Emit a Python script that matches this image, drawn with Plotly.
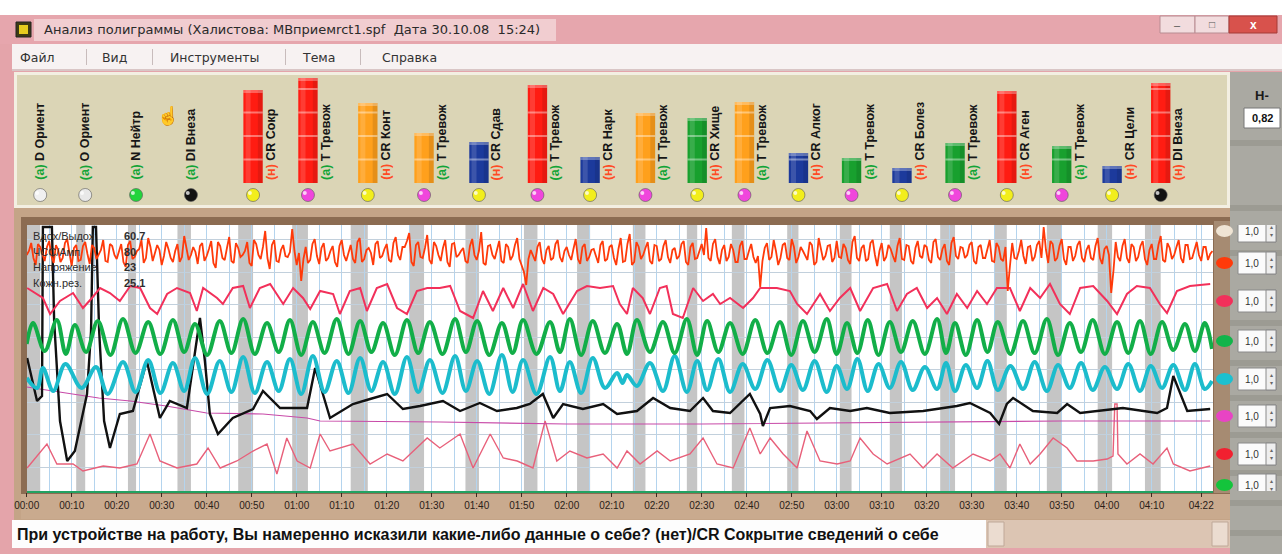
import plotly.graph_objects as go

W, H = 1282, 554

# ---------------- data ----------------
tick_times = [0, 10, 20, 30, 40, 50, 60, 70, 80, 90, 100, 110, 120, 130, 140, 150, 160,
              170, 180, 190, 200, 210, 220, 230, 240, 250, 261]
tick_labels = ["00:00", "00:10", "00:20", "00:30", "00:40", "00:50", "01:00", "01:10", "01:20",
               "01:30", "01:40", "01:50", "02:00", "02:10", "02:20", "02:30", "02:40", "02:50",
               "03:00", "03:10", "03:20", "03:30", "03:40", "03:50", "04:00", "04:10", "04:22"]

q_labels = ["D Ориент", "O Ориент", "N Нейтр", "DI Внеза", "CR Сокр", "T Тревож", "CR Конт",
            "T Тревож", "CR Сдав", "T Тревож", "CR Нарк", "T Тревож", "CR Хище", "T Тревож",
            "CR Алког", "T Тревож", "CR Болез", "T Тревож", "CR Аген", "T Тревож", "CR Цели",
            "DI Внеза"]
q_answer = ["а", "а", "а", "а", "н", "а", "н", "а", "н", "а", "н", "а", "н", "а", "н", "а",
            "н", "а", "н", "а", "н", "н"]
q_start = [0.0, 11.0, 22.5, 33.5, 47.0, 59.0, 72.0, 85.0, 97.5, 110.5, 122.3, 134.7, 146.7,
           156.7, 169.0, 180.7, 191.8, 203.0, 215.0, 226.7, 238.0, 248.5]
q_end = [3.0, 13.0, 24.3, 36.5, 50.3, 62.5, 75.8, 88.3, 100.5, 113.5, 125.2, 137.5, 149.0,
         159.5, 171.5, 183.3, 194.5, 206.3, 217.8, 230.0, 241.2, 252.0]
q_score = [0, 0, 0, 0, 93, 105, 80, 50, 41, 98, 26, 70, 65, 81, 30, 25, 15, 40, 92, 37, 17, 100]
q_level = ["", "", "", "", "high", "high", "mid", "mid", "low", "high", "low", "mid", "norm",
           "mid", "low", "norm", "low", "norm", "high", "norm", "low", "high"]

readout_names = ["Вдох/Выдох", "ЧСС/Амп", "Напряжение", "Кожн.рез."]
readout_values = ["60.7", "80", "23", "25.1"]

channel_levels = [260, 228, 190, 150, 112, 75, 37, 6]
channel_gain = ["1,0", "1,0", "1,0", "1,0", "1,0", "1,0", "1,0", "1,0"]
index_value = "0,82"

# tremor / top channel: samples at whole seconds ...
red_v = [236, 248, 226, 244, 230, 250, 228, 241, 233, 252, 225, 246, 231, 249, 227, 243, 236, 251, 229, 245,
         232, 247, 224, 250, 234, 242, 228, 253, 230, 246, 226, 249, 233, 240, 229, 255, 231, 244, 227, 248,
         235, 250, 223, 245, 231, 254, 228, 243, 236, 249, 225, 247, 232, 260, 222, 251, 229, 246, 234, 262,
         226, 210, 244, 231, 252, 227, 248, 233, 245, 224, 251, 230, 246, 228, 253, 232, 243, 226, 250, 235,
         247, 229, 254, 231, 244, 258, 225, 249, 233, 256, 227, 245, 230, 251, 224, 248, 236, 243, 228, 252,
         231, 259, 226, 246, 232, 250, 228, 244, 235, 253, 226, 206, 241, 230, 249, 227, 245, 233, 251, 229,
         244, 231, 252, 227, 247, 234, 242, 228, 250, 232, 246, 226, 253, 230, 257, 229, 244, 236, 249, 227,
         245, 232, 251, 228, 243, 235, 250, 226, 248, 233, 247, 263, 230, 252, 227, 246, 234, 241, 229, 250,
         232, 247, 228, 204, 243, 231, 251, 226, 246, 233, 252, 228, 244, 235, 249, 226, 253, 231, 245, 229,
         250, 233, 243, 227, 255, 230, 246, 232, 251, 225, 248, 234, 242, 229, 253, 231, 245, 227, 250, 233,
         244, 228, 252, 231, 247, 226, 254, 232, 243, 236, 249, 227, 246, 233, 251, 229, 244, 230, 200, 248,
         232, 251, 227, 245, 234, 250, 264, 228, 247, 233, 252, 226, 244, 235, 250, 229, 246, 231, 253, 227,
         245, 198, 249, 230, 252, 228, 244, 234, 250, 226, 247, 232, 255, 229, 243, 236, 251, 228, 246, 233,
         249, 230, 244, 237]
# ... and at the half seconds in between
red_half = [240, 233, 247, 236, 244, 235, 246, 229, 248, 238, 243, 230, 245, 237, 246, 232, 241, 230, 247, 236,
            241, 229, 246, 232, 240, 251, 233, 244, 238, 241, 235, 242, 229, 247, 234, 243, 236, 239, 245, 230,
            242, 228, 249, 233, 243, 230, 248, 234, 240, 228, 251, 236, 244, 233, 246, 230, 241, 235, 239, 240,
            238, 232, 228, 247, 235, 243, 230, 240, 229, 245, 236, 238, 232, 249, 229, 241, 238, 247, 233, 242,
            231, 248, 236, 244, 250, 229, 246, 234, 243, 231, 249, 236, 243, 229, 247, 234, 240, 230, 245, 236,
            240, 228, 245, 236, 241, 230, 247, 231, 246, 232, 219, 232, 236, 244, 232, 241, 231, 247, 234, 240,
            236, 242, 232, 244, 230, 241, 235, 246, 230, 244, 233, 242, 229, 247, 226, 249, 232, 243, 230, 246,
            230, 245, 234, 241, 232, 247, 229, 244, 232, 240, 236, 233, 247, 234, 241, 230, 247, 229, 245, 232,
            240, 234, 235, 230, 248, 234, 240, 233, 248, 231, 244, 234, 240, 231, 246, 229, 243, 235, 246, 233,
            234, 247, 231, 249, 233, 243, 230, 248, 236, 240, 230, 246, 235, 245, 232, 246, 230, 243, 235, 246,
            231, 249, 234, 242, 230, 248, 235, 244, 233, 246, 230, 244, 233, 242, 230, 248, 232, 244, 225, 233,
            240, 235, 244, 230, 246, 233, 241, 250, 230, 245, 232, 244, 230, 246, 233, 241, 233, 245, 233, 242,
            236, 220, 234, 245, 233, 247, 230, 245, 232, 241, 232, 246, 231, 248, 232, 244, 233, 246, 232, 241,
            236, 244, 231, 240]

crimson = [(0.1, 203), (3.6, 193), (5.2, 177), (7.4, 190), (10.3, 198), (12.5, 183), (14.5, 193), (16.3, 203),
           (18.5, 198), (20.7, 190), (23.0, 205), (25.2, 203), (27.4, 183), (29.0, 177), (31.2, 197), (33.4, 203),
           (36.3, 198), (37.8, 180), (39.2, 203), (42.3, 193), (43.6, 187), (45.8, 203), (48.1, 205), (49.6, 183),
           (51.8, 203), (54.1, 207), (57.0, 187), (59.2, 203), (61.4, 193), (63.0, 182), (65.2, 200), (68.1, 197),
           (69.6, 177), (71.8, 200), (74.1, 203), (75.6, 180), (77.8, 203), (80.1, 207), (82.3, 183), (84.5, 177),
           (86.7, 200), (89.0, 203), (91.8, 203), (94.1, 205), (96.3, 180), (99.2, 173), (101.4, 200), (103.6, 180),
           (105.9, 203), (108.1, 183), (110.3, 207), (112.5, 180), (114.8, 203), (117.0, 197), (119.2, 177),
           (122.3, 200), (124.5, 205), (127.4, 203), (130.3, 205), (131.8, 187), (133.4, 177), (134.7, 203),
           (136.9, 193), (138.5, 177), (140.7, 203), (142.2, 205), (143.6, 177), (145.8, 173), (148.1, 203),
           (150.3, 190), (152.5, 197), (154.1, 187), (156.3, 193), (159.2, 183), (161.4, 193), (163.0, 203),
           (166.7, 203), (169.6, 200), (171.2, 187), (173.4, 177), (176.3, 197), (178.5, 180), (180.7, 193),
           (183.0, 203), (185.2, 180), (188.1, 203), (191.2, 207), (193.4, 180), (195.6, 197), (197.8, 203),
           (200.1, 183), (202.3, 193), (204.5, 177), (206.7, 197), (209.0, 183), (211.2, 200), (213.4, 187),
           (215.6, 203), (218.5, 203), (220.7, 180), (223.0, 203), (225.2, 193), (227.4, 207), (229.6, 187),
           (231.8, 177), (234.1, 203), (237.0, 205), (240.1, 190), (242.3, 177), (244.5, 197), (246.7, 205),
           (249.6, 203), (251.8, 187), (253.4, 178), (255.6, 200), (258.5, 205), (263.0, 207)]

green = [(0, 147), (1.4, 168), (4.0, 140), (6.7, 171), (8.7, 137), (10.7, 166), (13.2, 139), (15.8, 170),
         (18.6, 136), (21.4, 172), (24.2, 138), (27.0, 169), (29.7, 137), (32.5, 171), (35.0, 139), (37.4, 167),
         (40.1, 136), (42.9, 170), (45.5, 138), (48.1, 172), (50.7, 137), (53.4, 168), (56.0, 139), (58.5, 171),
         (61.0, 136), (63.6, 169), (66.2, 138), (68.9, 172), (71.5, 137), (74.1, 170), (76.6, 139), (79.2, 168),
         (81.8, 136), (84.5, 171), (87.0, 138), (89.6, 169), (92.4, 137), (95.2, 172), (97.6, 139), (100.1, 170),
         (102.8, 136), (105.6, 168), (108.0, 138), (110.3, 171), (113.3, 137), (116.3, 169), (118.5, 139),
         (120.7, 172), (123.2, 136), (125.8, 170), (128.5, 138), (131.2, 167), (133.4, 137), (135.6, 171),
         (138.5, 139), (141.4, 169), (144.0, 138), (146.7, 172), (149.0, 136), (151.2, 170), (153.7, 139),
         (156.3, 168), (159.1, 137), (161.9, 171), (164.6, 138), (167.4, 169), (169.9, 136), (172.5, 170),
         (175.1, 139), (177.8, 172), (180.0, 137), (182.3, 168), (184.6, 138), (186.9, 171), (189.3, 136),
         (191.8, 169), (194.3, 139), (196.9, 170), (199.6, 137), (202.3, 172), (204.3, 138), (206.3, 168),
         (208.7, 136), (211.2, 171), (213.5, 139), (215.8, 169), (218.6, 137), (221.4, 170), (224.0, 138),
         (226.7, 172), (229.2, 136), (231.8, 168), (234.3, 139), (236.9, 171), (239.6, 137), (242.3, 169),
         (244.8, 138), (247.4, 170), (249.8, 137), (252.3, 169), (254.8, 141), (257.4, 167), (259.6, 140),
         (261.8, 168), (263.4, 142)]

cyan = [(0, 113), (2.3, 103), (3.6, 123), (5.9, 100), (8.6, 127), (12.2, 103), (15.4, 124), (18.0, 97),
        (21.4, 129), (24.2, 99), (27.0, 131), (29.7, 98), (32.5, 128), (35.0, 100), (37.4, 133), (40.1, 97),
        (42.9, 130), (45.5, 99), (48.1, 134), (50.7, 98), (53.4, 129), (56.0, 100), (58.5, 132), (61.0, 97),
        (63.6, 135), (66.2, 99), (68.9, 130), (71.5, 98), (74.1, 133), (76.6, 100), (79.2, 129), (81.8, 97),
        (84.5, 134), (87.0, 99), (89.6, 131), (92.4, 98), (95.2, 135), (97.6, 100), (100.1, 130), (102.8, 97),
        (105.6, 136), (108.0, 99), (110.3, 131), (113.3, 97), (116.3, 134), (118.5, 100), (120.7, 129),
        (123.2, 98), (125.8, 133), (128.5, 103), (131.2, 118), (132.4, 108), (133.4, 116), (135.6, 105),
        (138.5, 128), (141.4, 100), (144.0, 135), (146.7, 99), (149.0, 130), (151.2, 101), (153.7, 132),
        (156.3, 99), (159.1, 127), (161.9, 102), (164.6, 131), (167.4, 100), (169.9, 126), (172.5, 101),
        (175.1, 130), (177.8, 99), (180.0, 125), (182.3, 102), (184.6, 132), (186.9, 100), (189.3, 127),
        (191.8, 103), (194.3, 129), (196.9, 101), (199.6, 124), (202.3, 102), (204.3, 128), (206.3, 100),
        (208.7, 126), (211.2, 103), (213.5, 130), (215.8, 101), (218.6, 125), (221.4, 102), (224.0, 129),
        (226.7, 100), (229.2, 126), (231.8, 103), (234.3, 128), (236.9, 101), (239.6, 124), (242.3, 102),
        (244.8, 127), (247.4, 100), (249.8, 125), (252.3, 103), (254.8, 126), (257.4, 101), (259.6, 127),
        (261.8, 102), (263.4, 110)]

black = [(0.1, 133), (2.3, 90), (3.4, 95), (3.6, 264), (5.6, 264), (6.1, 170), (7.4, 70), (9.0, 30),
         (10.7, 40), (13.4, 97), (14.3, 160), (14.7, 264), (15.4, 264), (16.1, 160), (17.2, 70), (18.5, 43),
         (20.7, 77), (23.6, 80), (26.7, 130), (29.6, 73), (31.8, 90), (35.6, 83), (38.5, 173), (39.6, 130),
         (40.7, 77), (42.5, 57), (45.8, 73), (50.3, 82), (52.5, 100), (56.3, 83), (62.3, 83), (64.1, 123),
         (67.4, 73), (72.5, 87), (76.3, 92), (80.1, 97), (83.6, 82), (87.4, 85), (92.5, 90), (96.3, 80),
         (100.7, 88), (104.5, 80), (108.9, 83), (111.8, 87), (114.7, 97), (117.0, 73), (119.2, 87),
         (123.6, 82), (128.1, 87), (131.2, 77), (135.6, 80), (139.2, 93), (143.0, 83), (147.4, 80),
         (150.3, 93), (152.5, 80), (156.3, 78), (160.7, 97), (163.0, 77), (163.6, 65), (165.2, 83),
         (169.6, 85), (174.1, 80), (175.6, 72), (178.5, 83), (183.0, 80), (186.7, 83), (191.8, 78),
         (199.2, 80), (206.7, 85), (209.6, 88), (214.1, 78), (216.1, 67), (217.8, 87), (219.2, 93),
         (223.6, 80), (229.0, 78), (231.2, 87), (234.1, 78), (243.6, 83), (251.2, 78), (253.4, 83),
         (254.8, 115), (257.9, 80), (263.0, 82)]

magenta = [(0, 104), (3.0, 102), (9.6, 97), (16.0, 93), (23.0, 90), (31.0, 85), (40.0, 78), (52.5, 77),
           (62.3, 73), (65.2, 70), (92.0, 69), (120.0, 67), (150.0, 67), (175.0, 68), (200.0, 69),
           (230.0, 70), (263.0, 70)]

salmon = [(0.1, 23), (4.5, 47), (6.7, 27), (10.3, 27), (12.5, 20), (17.0, 25), (20.7, 23), (24.5, 27),
          (27.4, 57), (29.6, 30), (33.4, 23), (37.8, 27), (40.3, 43), (43.0, 23), (46.7, 30), (50.3, 40),
          (53.4, 47), (55.6, 17), (57.8, 53), (60.1, 30), (63.0, 23), (65.2, 57), (67.4, 40), (72.5, 47),
          (76.3, 27), (80.1, 37), (83.6, 30), (89.0, 53), (91.8, 43), (96.3, 57), (99.2, 23), (103.0, 57),
          (105.9, 33), (109.0, 30), (112.5, 23), (115.2, 70), (117.8, 30), (120.7, 40), (124.5, 33),
          (128.1, 37), (131.2, 23), (133.4, 40), (136.3, 27), (140.1, 40), (143.0, 30), (147.4, 37),
          (150.3, 53), (153.4, 27), (157.0, 23), (160.7, 63), (163.0, 37), (165.2, 53), (168.1, 37),
          (171.2, 23), (173.4, 60), (176.3, 30), (180.1, 27), (183.0, 30), (185.2, 53), (188.1, 37),
          (191.2, 27), (194.1, 33), (196.3, 37), (199.2, 23), (202.3, 37), (205.8, 23), (210.3, 37),
          (214.1, 30), (216.3, 37), (218.5, 23), (220.7, 47), (223.0, 27), (225.2, 37), (228.1, 53),
          (231.2, 43), (233.4, 30), (237.0, 30), (240.1, 32), (241.4, 35), (241.8, 87), (242.3, 87),
          (242.5, 37), (244.5, 27), (247.4, 37), (250.3, 27), (253.4, 43), (254.8, 27), (258.5, 20),
          (263.0, 25)]

title_text = "Анализ полиграммы (Халистова: МВприемrct1.spf  Дата 30.10.08  15:24)"
menu_items = ["Файл", "Вид", "Инструменты", "Тема", "Справка"]
status_text = "При устройстве на работу, Вы намеренно исказили какие-либо данные о себе? (нет)/CR Сокрытие сведений о себе"

# ---------------- styles ----------------
FONT = "Liberation Sans, Arial, sans-serif"
UIFONT = "DejaVu Sans, Verdana, sans-serif"
level_color = {"high": "#ff1c12", "mid": "#ffa01c", "norm": "#18a02e", "low": "#1c3a9c"}
type_color = {"D": "#f0f0f0", "O": "#e8e8e8", "N": "#22d43c", "DI": "#121212", "CR": "#f2ee1c", "T": "#f046dc"}
answer_color = {"а": "#12a436", "н": "#ff4a24"}
handle_colors = ["#efe4d4", "#ff3a0a", "#f2305a", "#12b44a", "#1cc0d0", "#e844c4", "#f22030", "#14c43c"]

X_LEFT, X_RIGHT = 26.7, 1213.0
PX_PER_S = 4.5
T_MAX = (X_RIGHT - X_LEFT) / PX_PER_S


def px(x):
    return x / W


def py(y):
    return 1 - y / H


shapes = []
annotations = []


def rect(x0, y0, x1, y1, fill, line=None, lw=0, layer="below"):
    shapes.append(dict(type="rect", xref="paper", yref="paper", x0=px(x0), x1=px(x1),
                       y0=py(y1), y1=py(y0), fillcolor=fill,
                       line=dict(width=lw, color=line or fill), layer=layer))


def text(x, y, s, size=11, color="#222", xanchor="left", bold=False, family=FONT, **kw):
    annotations.append(dict(x=px(x), y=py(y), xref="paper", yref="paper", text=("<b>%s</b>" % s) if bold else s,
                            showarrow=False, xanchor=xanchor, yanchor="middle",
                            font=dict(size=size, color=color, family=family), **kw))


# ---------------- window chrome ----------------
rect(0, 0, W, 15, "#ffffff")
rect(0, 15, W, 44, "#e6a6ad")
rect(34, 19, 556, 41, "#f1cdd0")
rect(16, 22, 31, 37, "#3c3a14", "#222", 1)
rect(19, 25, 28, 34, "#e6cc1e")
text(42, 30, title_text, size=13, color="#2a2a2a", family=UIFONT)
rect(1160, 16, 1195, 33, "#f2dcde", "#b88c92", 1)
rect(1195, 16, 1229, 33, "#f2dcde", "#b88c92", 1)
rect(1229, 16, 1277, 33, "#d8524c", "#a43a36", 1)
text(1177, 25, "–", size=11, color="#555", xanchor="center")
text(1212, 25, "□", size=10, color="#555", xanchor="center")
text(1253, 25, "x", size=12, color="#ffffff", xanchor="center", bold=True)

rect(12, 44, W, 70, "#f7f2f2")
rect(12, 69, W, 71, "#d9c6c6")
menu_x = [18, 100, 168, 300, 380]
for mx, item in zip(menu_x, menu_items):
    text(mx, 57, item, size=12.5, color="#333", family=UIFONT)
for sx in [86, 152, 285, 360]:
    rect(sx, 49, sx + 1, 65, "#c8bcbc")

# question panel
rect(14, 72, 1230, 208, "#f3efe2")
rect(17, 75, 1227, 205, "#dbd5b6")
# chart frame
rect(14, 208, 1230, 520, "#c4a487")
rect(21, 217, 1236, 496, "#8c6c52")
rect(27, 225, X_RIGHT, 491, "#ffffff")
rect(X_RIGHT + 1, 221, 1234, 493, "#a68b72")
rect(21, 494, 1236, 519, "#c9aa8e")
# status + scrollbar
rect(12, 520, 986, 548, "#fdfdfd")
rect(986, 520, 1230, 548, "#dcc5b3")
rect(988, 522, 1004, 546, "#ebdcd0", "#bfa898", 1)
rect(1212, 522, 1228, 546, "#ebdcd0", "#bfa898", 1)
text(15, 534, status_text, size=16, color="#111", bold=True)
# right grey strip
rect(1230, 72, W, H, "#aaa9a2")
for yy in [140, 205, 250, 320, 360, 395, 432, 470, 500, 530]:
    rect(1230, yy, W, yy + 6, "#9c9b93")
text(1262, 95, "Н-", size=13, color="#1a1a1a", xanchor="center", bold=True)
rect(1244, 108, 1280, 128, "#ffffff", "#777", 1)
text(1262, 118, index_value, size=11, color="#111", xanchor="center", bold=True)
# hand cursor in the panel
text(168, 116, "☝", size=18, color="#555", xanchor="center")

# readouts in the chart corner
for i, (nm, val) in enumerate(zip(readout_names, readout_values)):
    text(31, 236 + 15.5 * i, nm, size=11, color="#2e2e2e")
    text(122, 236 + 15.5 * i, val, size=11, color="#2e2e2e", bold=True)

# ---------------- question bands ----------------
for s, e in zip(q_start, q_end):
    shapes.append(dict(type="rect", xref="x", yref="y", x0=s, x1=e, y0=0, y1=266,
                       fillcolor="rgba(150,150,150,0.55)", line=dict(width=0), layer="below"))

# channel handles and gain spin boxes
for lvl, col, g in zip(channel_levels, handle_colors, channel_gain):
    shapes.append(dict(type="circle", xref="paper", yref="y", x0=px(1216), x1=px(1233),
                       y0=lvl - 6, y1=lvl + 6, fillcolor=col, line=dict(width=0), layer="above"))
    shapes.append(dict(type="rect", xref="paper", yref="y", x0=px(1238), x1=px(1276),
                       y0=lvl - 11, y1=lvl + 11, fillcolor="#fbfbfb", line=dict(width=1, color="#8a8a8a"),
                       layer="above"))
    shapes.append(dict(type="rect", xref="paper", yref="y", x0=px(1266), x1=px(1276),
                       y0=lvl - 11, y1=lvl + 11, fillcolor="#eeeeee", line=dict(width=1, color="#8a8a8a"),
                       layer="above"))
    annotations.append(dict(x=px(1252), y=lvl, xref="paper", yref="y", text=g, showarrow=False,
                            font=dict(size=10, color="#333", family=FONT), xanchor="center"))
    annotations.append(dict(x=px(1271), y=lvl, xref="paper", yref="y", text="▴<br>▾", showarrow=False,
                            font=dict(size=6, color="#666", family=FONT), xanchor="center"))

# ---------------- traces ----------------
fig = go.Figure()


def add_line(pts, color, width, shape="linear"):
    fig.add_trace(go.Scatter(x=[p[0] for p in pts], y=[p[1] for p in pts], mode="lines",
                             line=dict(color=color, width=width, shape=shape),
                             hoverinfo="skip", showlegend=False, xaxis="x", yaxis="y"))


add_line(salmon, "#e8607a", 1.4)
add_line(magenta, "#c84aa8", 1.2)
add_line(black, "#111111", 2.4)
add_line(cyan, "#1cbccc", 4.0, "spline")
add_line(green, "#12ae48", 4.0, "spline")
add_line(crimson, "#f2305a", 2.0)
red_pts = sorted([(i, v) for i, v in enumerate(red_v)] + [(i + 0.5, v) for i, v in enumerate(red_half)])
add_line(red_pts, "#ff3a0a", 1.8)

# question panel bars, dots, labels
BAR_W = 4.3
bar_idx = [i for i, s in enumerate(q_score) if s > 0]
fig.add_trace(go.Bar(x=[q_end[i] for i in bar_idx], y=[q_score[i] for i in bar_idx], width=BAR_W,
                     marker=dict(color=[level_color[q_level[i]] for i in bar_idx], line=dict(width=0)),
                     xaxis="x2", yaxis="y2", hoverinfo="skip", showlegend=False))
# cylinder shading and segment lines on the bars
for i in bar_idx:
    xc = q_end[i]
    shapes.append(dict(type="rect", xref="x2", yref="y2", x0=xc - BAR_W / 2 + 0.5, x1=xc - BAR_W / 8,
                       y0=0, y1=q_score[i], fillcolor="rgba(255,255,255,0.14)", line=dict(width=0),
                       layer="above"))
    shapes.append(dict(type="rect", xref="x2", yref="y2", x0=xc + BAR_W / 4, x1=xc + BAR_W / 2,
                       y0=0, y1=q_score[i], fillcolor="rgba(0,0,0,0.10)", line=dict(width=0),
                       layer="above"))
    k = 1
    while k * 23.5 < q_score[i] - 4:
        shapes.append(dict(type="line", xref="x2", yref="y2", x0=xc - BAR_W / 2, x1=xc + BAR_W / 2,
                           y0=k * 23.5, y1=k * 23.5, line=dict(color="rgba(255,255,255,0.4)", width=2),
                           layer="above"))
        k += 1
    shapes.append(dict(type="rect", xref="x2", yref="y2", x0=xc - BAR_W / 2, x1=xc + BAR_W / 2,
                       y0=q_score[i] - 3, y1=q_score[i], fillcolor="rgba(255,255,255,0.3)",
                       line=dict(width=0), layer="above"))

q_types = [lab.split()[0] for lab in q_labels]
fig.add_trace(go.Scatter(x=q_end, y=[-12] * len(q_end), mode="markers", cliponaxis=False,
                         marker=dict(size=13, color=[type_color[t] for t in q_types],
                                     line=dict(width=1, color="rgba(90,90,90,0.6)")),
                         xaxis="x2", yaxis="y2", hoverinfo="skip", showlegend=False))
fig.add_trace(go.Scatter(x=[t - 0.7 for t in q_end], y=[-10] * len(q_end), mode="markers", cliponaxis=False,
                         marker=dict(size=4, color="rgba(255,255,255,0.75)"),
                         xaxis="x2", yaxis="y2", hoverinfo="skip", showlegend=False))

for i, lab in enumerate(q_labels):
    lx = q_end[i] + (4.0 if q_score[i] > 0 else 0.0)
    annotations.append(dict(x=lx, y=1, xref="x2", yref="y2", textangle=-90, showarrow=False,
                            xanchor="center", yanchor="bottom",
                            text="<b><span style='color:%s'>(%s)</span> %s</b>" % (answer_color[q_answer[i]], q_answer[i], lab),
                            font=dict(size=12.5, color="#161616", family=FONT)))

y_main = [py(491), py(225)]
x_dom = [px(X_LEFT), px(X_RIGHT)]
fig.update_layout(
    width=W, height=H, autosize=False, margin=dict(l=0, r=0, t=0, b=0, pad=0),
    paper_bgcolor="#e4a4aa", plot_bgcolor="rgba(0,0,0,0)", showlegend=False,
    font=dict(family=FONT),
    xaxis=dict(domain=x_dom, range=[0, T_MAX], anchor="y", tickvals=tick_times, ticktext=tick_labels,
               ticks="outside", ticklen=4, tickwidth=1, tickcolor="#3a2a20",
               tickfont=dict(size=10, color="#2a2018", family=FONT),
               showgrid=True, gridcolor="#b4d4ee", gridwidth=1,
               minor=dict(dtick=5, tick0=0, showgrid=True, gridcolor="#b4d4ee", ticks=""),
               showline=True, linecolor="#22a262", linewidth=2, zeroline=False, fixedrange=True,
               automargin=False),
    yaxis=dict(domain=y_main, range=[0, 266], showticklabels=False, ticks="", showgrid=True,
               gridcolor="#c2d0dc", tick0=24, dtick=32.5, zeroline=False, showline=False, fixedrange=True,
               automargin=False),
    xaxis2=dict(domain=x_dom, range=[0, T_MAX], anchor="y2", visible=False, fixedrange=True, automargin=False),
    yaxis2=dict(domain=[py(205), py(72)], range=[-22, 111], visible=False, fixedrange=True, automargin=False),
    shapes=shapes, annotations=annotations,
)

fig.write_html("out.html", config={"displayModeBar": False},
               post_script="document.body.style.margin='0px';document.body.style.overflow='hidden';")
